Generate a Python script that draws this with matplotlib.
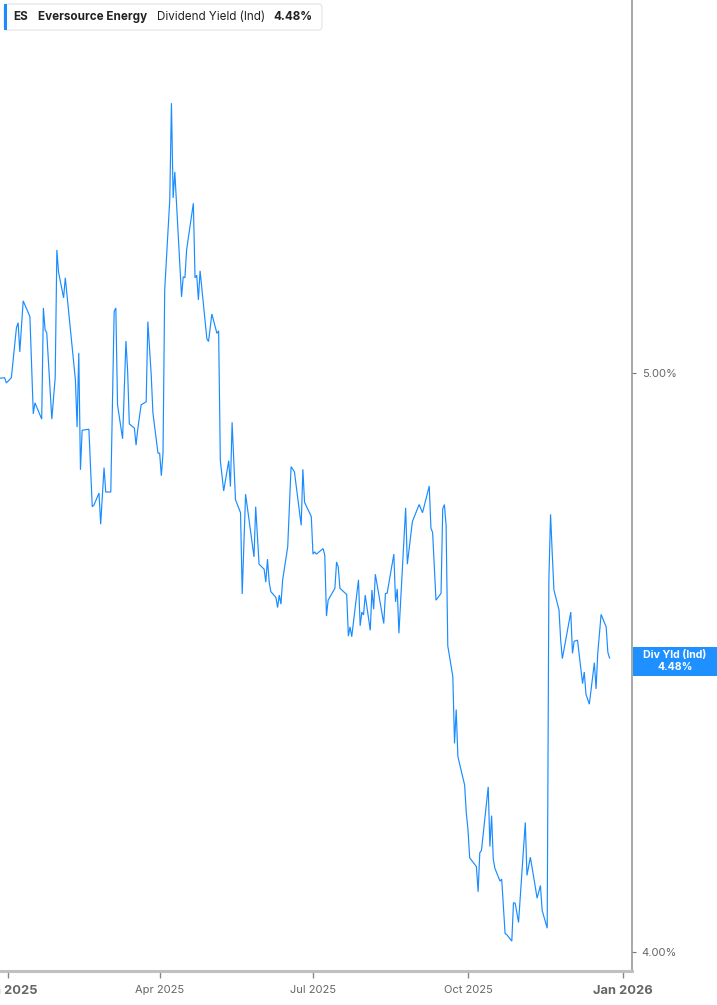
import matplotlib
matplotlib.use("Agg")
import matplotlib.pyplot as plt
import matplotlib.dates as mdates
from matplotlib.patches import FancyBboxPatch, Rectangle
import pandas as pd

plt.rcParams['font.family'] = ['Inter', 'DejaVu Sans']

# ---------------- data ----------------
dates = [
    "2024-12-27", "2024-12-30", "2024-12-31", "2025-01-03", "2025-01-06", "2025-01-07", "2025-01-08", "2025-01-10", "2025-01-13", "2025-01-14",
    "2025-01-16", "2025-01-17", "2025-01-21", "2025-01-22", "2025-01-23", "2025-01-24", "2025-01-27", "2025-01-29", "2025-01-30", "2025-01-31",
    "2025-02-03", "2025-02-04", "2025-02-10", "2025-02-11", "2025-02-12", "2025-02-13", "2025-02-14", "2025-02-18", "2025-02-20", "2025-02-21",
    "2025-02-24", "2025-02-25", "2025-02-27", "2025-02-28", "2025-03-03", "2025-03-05", "2025-03-06", "2025-03-07", "2025-03-10", "2025-03-12",
    "2025-03-13", "2025-03-14", "2025-03-17", "2025-03-18", "2025-03-19", "2025-03-21", "2025-03-24", "2025-03-25", "2025-03-27", "2025-03-28",
    "2025-03-31", "2025-04-01", "2025-04-02", "2025-04-03", "2025-04-04", "2025-04-07", "2025-04-08", "2025-04-09", "2025-04-10", "2025-04-14",
    "2025-04-15", "2025-04-16", "2025-04-17", "2025-04-21", "2025-04-22", "2025-04-23", "2025-04-24", "2025-04-25", "2025-04-29", "2025-04-30",
    "2025-05-02", "2025-05-05", "2025-05-06", "2025-05-07", "2025-05-09", "2025-05-12", "2025-05-13", "2025-05-14", "2025-05-16", "2025-05-19",
    "2025-05-20", "2025-05-22", "2025-05-27", "2025-05-28", "2025-05-30", "2025-06-02", "2025-06-03", "2025-06-04", "2025-06-05", "2025-06-06",
    "2025-06-09", "2025-06-10", "2025-06-11", "2025-06-12", "2025-06-13", "2025-06-16", "2025-06-18", "2025-06-20", "2025-06-24", "2025-06-25",
    "2025-06-26", "2025-06-30", "2025-07-01", "2025-07-02", "2025-07-03", "2025-07-07", "2025-07-08", "2025-07-09", "2025-07-10", "2025-07-14",
    "2025-07-15", "2025-07-16", "2025-07-17", "2025-07-21", "2025-07-22", "2025-07-23", "2025-07-24", "2025-07-28", "2025-07-29", "2025-07-30",
    "2025-07-31", "2025-08-01", "2025-08-04", "2025-08-05", "2025-08-06", "2025-08-07", "2025-08-12", "2025-08-13", "2025-08-14", "2025-08-18",
    "2025-08-19", "2025-08-20", "2025-08-21", "2025-08-25", "2025-08-26", "2025-08-28", "2025-08-29", "2025-09-02", "2025-09-04", "2025-09-08",
    "2025-09-09", "2025-09-10", "2025-09-12", "2025-09-15", "2025-09-16", "2025-09-17", "2025-09-18", "2025-09-19", "2025-09-22", "2025-09-23",
    "2025-09-24", "2025-09-25", "2025-09-29", "2025-09-30", "2025-10-01", "2025-10-02", "2025-10-06", "2025-10-07", "2025-10-08", "2025-10-09",
    "2025-10-13", "2025-10-14", "2025-10-15", "2025-10-16", "2025-10-17", "2025-10-20", "2025-10-21", "2025-10-23", "2025-10-24", "2025-10-27",
    "2025-10-28", "2025-10-29", "2025-10-31", "2025-11-04", "2025-11-05", "2025-11-07", "2025-11-10", "2025-11-11", "2025-11-13", "2025-11-14",
    "2025-11-17", "2025-11-18", "2025-11-19", "2025-11-20", "2025-11-21", "2025-11-24", "2025-11-25", "2025-11-26", "2025-12-01", "2025-12-02",
    "2025-12-03", "2025-12-05", "2025-12-08", "2025-12-09", "2025-12-10", "2025-12-12", "2025-12-15", "2025-12-16", "2025-12-17", "2025-12-19",
    "2025-12-22", "2025-12-23", "2025-12-24",
]

div_yield = [
    4.990, 4.991, 4.981, 4.991, 5.088, 5.098, 5.041, 5.141, 5.118, 5.110,
    4.922, 4.943, 4.912, 5.127, 5.084, 5.078, 4.912, 4.991, 5.243, 5.198,
    5.147, 5.187, 4.987, 4.897, 5.039, 4.817, 4.891, 4.893, 4.749, 4.752,
    4.774, 4.717, 4.821, 4.776, 4.776, 5.120, 5.127, 4.939, 4.875, 5.062,
    5.003, 4.903, 4.895, 4.863, 4.893, 4.939, 4.945, 5.100, 4.996, 4.924,
    4.848, 4.848, 4.806, 4.848, 5.163, 5.345, 5.548, 5.349, 5.403, 5.149,
    5.189, 5.187, 5.243, 5.338, 5.187, 5.192, 5.143, 5.201, 5.067, 5.061,
    5.115, 5.077, 5.082, 4.835, 4.778, 4.834, 4.786, 4.906, 4.762, 4.738,
    4.592, 4.772, 4.658, 4.749, 4.645, 4.636, 4.613, 4.654, 4.613, 4.596,
    4.586, 4.568, 4.590, 4.574, 4.617, 4.676, 4.823, 4.813, 4.715, 4.818,
    4.757, 4.731, 4.663, 4.667, 4.663, 4.673, 4.661, 4.553, 4.581, 4.602,
    4.649, 4.640, 4.602, 4.591, 4.518, 4.534, 4.517, 4.617, 4.536, 4.560,
    4.555, 4.590, 4.528, 4.599, 4.565, 4.627, 4.540, 4.593, 4.593, 4.663,
    4.578, 4.601, 4.523, 4.747, 4.645, 4.696, 4.722, 4.753, 4.738, 4.787,
    4.710, 4.702, 4.581, 4.593, 4.745, 4.753, 4.715, 4.501, 4.448, 4.335,
    4.392, 4.313, 4.266, 4.220, 4.193, 4.148, 4.134, 4.094, 4.156, 4.160,
    4.263, 4.166, 4.216, 4.146, 4.131, 4.111, 4.114, 4.029, 4.027, 4.017,
    4.077, 4.076, 4.046, 4.205, 4.120, 4.149, 4.101, 4.084, 4.104, 4.065,
    4.037, 4.617, 4.735, 4.664, 4.599, 4.564, 4.511, 4.479, 4.560, 4.488,
    4.509, 4.511, 4.436, 4.456, 4.418, 4.401, 4.472, 4.427, 4.488, 4.556,
    4.534, 4.490, 4.480,
]

x_tick_dates = ["2025-01-01", "2025-04-01", "2025-07-01", "2025-10-01", "2026-01-01"]
x_tick_labels = ["Jan 2025", "Apr 2025", "Jul 2025", "Oct 2025", "Jan 2026"]
y_ticks = [4.0, 5.0]
y_tick_labels = ["4.00%", "5.00%"]

ticker = "ES"
company = "Eversource Energy"
metric = "Dividend Yield (Ind)"
last_label = "Div Yld (Ind)"
last_value = div_yield[-1]

# ---------------- figure ----------------
W, H = 717, 1005
fig = plt.figure(figsize=(W / 100, H / 100), dpi=100)
fig.patch.set_facecolor("white")

def fx(px):
    return px / W

def fy(py):
    return 1 - py / H

ax_right = 632
ax_bottom = 971
ax = fig.add_axes([0, fy(ax_bottom), fx(ax_right), ax_bottom / H])
ax.set_facecolor("white")

line_color = "#1a8cff"
d = pd.to_datetime(dates)
ax.plot(d, div_yield, color=line_color, lw=0.85, solid_joinstyle="miter")

ax.set_yscale("log")
ax.set_ylim(3.971, 5.773)
ax.yaxis.set_major_locator(matplotlib.ticker.FixedLocator(y_ticks))
ax.yaxis.set_minor_locator(matplotlib.ticker.NullLocator())
ax.set_yticklabels(y_tick_labels)
ax.yaxis.tick_right()

ax.set_xlim(pd.Timestamp("2024-12-27 06:00"), pd.Timestamp("2026-01-06 08:00"))
ax.set_xticks(pd.to_datetime(x_tick_dates))
ax.set_xticklabels(x_tick_labels)

for s in ["top", "left"]:
    ax.spines[s].set_visible(False)
ax.spines["right"].set_color("#999999")
ax.spines["right"].set_linewidth(1.2)
ax.spines["bottom"].set_color("#c0c0c0")
ax.spines["bottom"].set_linewidth(2.2)

ax.tick_params(axis="y", which="major", direction="out", length=3, width=0.8,
               color="#777777", labelcolor="#666666", labelsize=8, pad=4)
ax.tick_params(axis="x", which="major", direction="out", length=5, width=1,
               color="#888888", labelcolor="#666666", labelsize=8, pad=5)
for i, lab in enumerate(ax.get_xticklabels()):
    if x_tick_labels[i].startswith("Jan"):
        lab.set_fontweight("bold")
        lab.set_fontsize(9.3)
        lab.set_color("#666666")

# ---------------- legend box (top-left) ----------------
box = FancyBboxPatch((fx(4), fy(30)), fx(318), (30 - 4) / H,
                     boxstyle="round,pad=0,rounding_size=0.004",
                     transform=fig.transFigure, facecolor="white",
                     edgecolor="#e3e3e3", linewidth=0.8, zorder=5)
fig.patches.append(box)
bar = Rectangle((fx(4), fy(30)), fx(3), (30 - 4) / H, transform=fig.transFigure,
                facecolor=line_color, edgecolor="none", zorder=6)
fig.patches.append(bar)

ty = fy(17)
txt_kw = dict(transform=fig.transFigure, va="center", ha="left", fontsize=8.4,
              color="#222222", zorder=7)
fig.text(fx(13), ty, ticker, fontweight="bold", **txt_kw)
fig.text(fx(38), ty, company, fontweight="bold", **txt_kw)
fig.text(fx(157), ty, metric, fontweight="normal", **txt_kw)
fig.text(fx(273), ty, f"{last_value:.2f}%", fontweight="bold", **txt_kw)

# ---------------- last-value label (right) ----------------
lab_box = Rectangle((fx(633), fy(676)), fx(W - 633), (676 - 647) / H,
                    transform=fig.transFigure, facecolor="#1e90ff",
                    edgecolor="none", zorder=5)
fig.patches.append(lab_box)
fig.text(fx(675), fy(655), last_label, transform=fig.transFigure, ha="center",
         va="center", fontsize=7.6, fontweight="bold", color="white", zorder=6)
fig.text(fx(675), fy(667), f"{last_value:.2f}%", transform=fig.transFigure, ha="center",
         va="center", fontsize=7.6, fontweight="bold", color="white", zorder=6)

fig.savefig("out.png", dpi=100)
